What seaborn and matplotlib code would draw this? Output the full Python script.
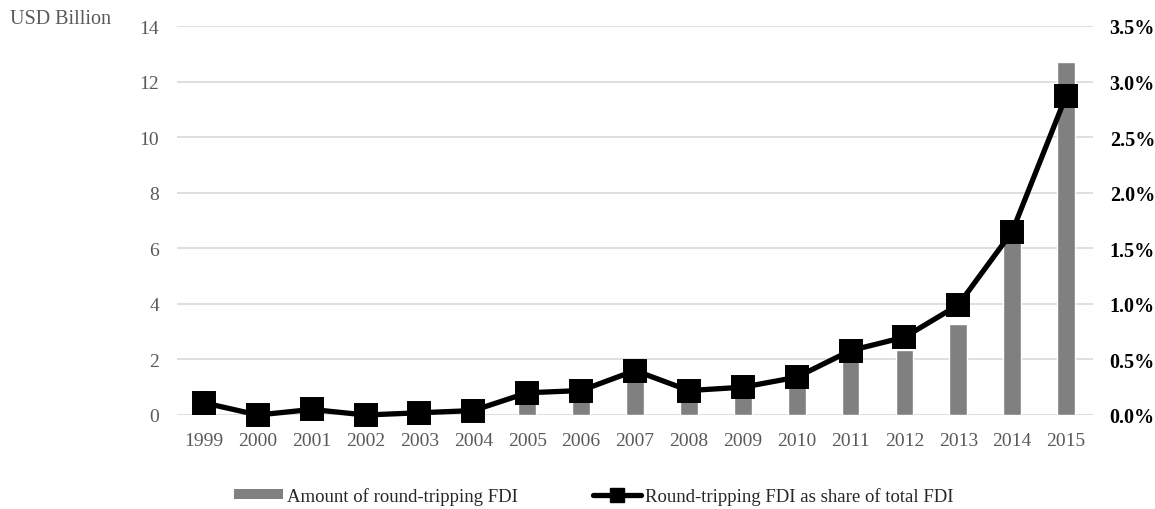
import matplotlib
matplotlib.use("Agg")
import matplotlib.pyplot as plt
import seaborn as sns
import pandas as pd
from matplotlib.patches import Patch
from matplotlib.lines import Line2D
from matplotlib.ticker import FuncFormatter, MultipleLocator

years = [str(y) for y in range(1999, 2016)]
amount_bn = [0.3, 0.0, 0.15, 0.0, 0.05, 0.1, 0.7, 0.8, 1.5, 0.8, 0.85, 1.2, 2.2, 2.33, 3.27, 6.35, 12.7]
share_pct = [0.11, 0.0, 0.05, 0.0, 0.02, 0.04, 0.20, 0.22, 0.40, 0.22, 0.25, 0.34, 0.58, 0.70, 0.99, 1.65, 2.87]
left_ticks = [0, 2, 4, 6, 8, 10, 12, 14]
legend_labels = ["Amount of round-tripping FDI", "Round-tripping FDI as share of total FDI"]

df = pd.DataFrame({"year": years, "amount": amount_bn, "share": share_pct})

sns.set_theme(style="white")
plt.rcParams["font.family"] = ["Liberation Serif", "DejaVu Serif"]

fig = plt.figure(figsize=(11.55, 5.10), dpi=100)
ax = fig.add_axes([177/1155, 1-416/510, (1093-177)/1155, (416-27)/510])

sns.barplot(data=df, x="year", y="amount", ax=ax, color="#808080", width=0.33,
            saturation=1, zorder=2)
ax.set_ylim(0, 14)
ax.set_yticks(left_ticks)
ax.yaxis.grid(True, color="#d9d9d9", linewidth=1.2, zorder=0)
ax.set_axisbelow(True)
for s in ax.spines.values():
    s.set_visible(False)
ax.set_xlabel("")
ax.set_ylabel("")
ax.tick_params(axis="both", length=0, labelsize=14, labelcolor="#595959")
ax.tick_params(axis="x", pad=12)
ax.tick_params(axis="y", pad=13)
ax.set_xlim(-0.5, len(years) - 0.5)

ax2 = ax.twinx()
sns.pointplot(data=df, x="year", y="share", ax=ax2, color="black", markers="s",
              markersize=14.5, linewidth=3.8, errorbar=None)
for ln in ax2.lines:
    ln.set_clip_on(False)
for c in ax2.collections:
    c.set_clip_on(False)
ax2.set_ylim(0, 3.5)
ax2.yaxis.set_major_locator(MultipleLocator(0.5))
ax2.yaxis.set_major_formatter(FuncFormatter(lambda v, p: f"{v:.1f}%"))
for s in ax2.spines.values():
    s.set_visible(False)
ax2.set_ylabel("")
ax2.set_xlabel("")
ax2.tick_params(axis="y", length=0, labelsize=14.5, pad=12)
for t in ax2.get_yticklabels():
    t.set_fontweight("bold")
    t.set_color("black")
ax2.set_xlim(-0.5, len(years) - 0.5)

fig.text(10/1155, 1-20/510, "USD Billion", fontsize=14.5, color="#595959", va="center", ha="left")

handles = [Patch(facecolor="#808080", edgecolor="none"),
           Line2D([0], [0], color="black", linewidth=3.8, marker="s", markersize=10)]
fig.legend(handles, legend_labels, loc="center", bbox_to_anchor=(594/1155, 1-497/510),
           ncol=2, frameon=False, fontsize=13.5, handlelength=2.6, handleheight=0.45,
           columnspacing=4.0, handletextpad=0.2)

fig.savefig("out.png", dpi=100, facecolor="white")
